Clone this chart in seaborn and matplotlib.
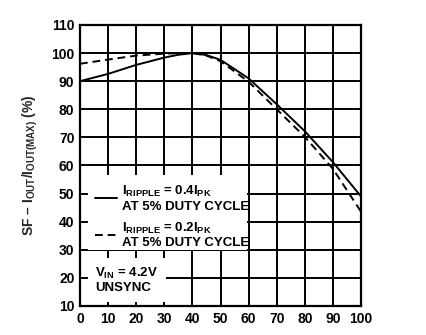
import matplotlib
matplotlib.use("Agg")
import matplotlib.pyplot as plt
import seaborn as sns
import pandas as pd
from matplotlib.patches import Rectangle

# ---- data ----
x_vals = [0, 10, 20, 30, 35, 40, 45, 50, 60, 70, 80, 90, 100]
sf_ripple_04 = [90.0, 92.6, 95.8, 98.4, 99.4, 100.0, 99.3, 97.6, 91.0, 81.8, 72.2, 61.2, 49.0]
sf_ripple_02 = [96.2, 97.7, 99.1, 99.8, 99.95, 100.0, 99.1, 97.1, 89.8, 80.0, 70.2, 58.8, 43.6]
series_names = ["0.4", "0.2"]
x_ticks = [0, 10, 20, 30, 40, 50, 60, 70, 80, 90, 100]
y_ticks = [10, 20, 30, 40, 50, 60, 70, 80, 90, 100, 110]

df = pd.DataFrame({
    "duty": x_vals * 2,
    "sf": sf_ripple_04 + sf_ripple_02,
    "series": [series_names[0]] * len(x_vals) + [series_names[1]] * len(x_vals),
})

sns.set_theme(style="white")
plt.rcParams["font.family"] = ["Liberation Sans", "DejaVu Sans"]
plt.rcParams["mathtext.fontset"] = "custom"
plt.rcParams["mathtext.rm"] = "Liberation Sans"

fig = plt.figure(figsize=(4.27, 3.35), dpi=100)
ax = fig.add_axes([0.1874, 0.0866, 0.658, 0.8388])

sns.lineplot(data=df, x="duty", y="sf", style="series",
             style_order=series_names,
             dashes={series_names[0]: "", series_names[1]: (4, 2.5)},
             color="black", linewidth=1.4, legend=False, ax=ax, zorder=5)

ax.set_xlim(0, 100)
ax.set_ylim(10, 110)
ax.set_xticks(x_ticks)
ax.set_yticks(y_ticks)
ax.tick_params(length=0, pad=4, labelsize=10, colors="black")
for lab in ax.get_xticklabels() + ax.get_yticklabels():
    lab.set_fontweight("bold")
ax.grid(True, color="black", linewidth=1.4)
ax.set_axisbelow(True)
for s in ax.spines.values():
    s.set_color("black")
    s.set_linewidth(1.6)
    s.set_zorder(6)

ax.set_xlabel("")
ax.set_ylabel(r"SF – I$_{\mathregular{OUT}}$/I$_{\mathregular{OUT(MAX)}}$ (%)",
              fontsize=10, fontweight="bold", labelpad=8)

# white areas behind the annotation text
ax.add_patch(Rectangle((3, 30), 56.5, 26.5, facecolor="white", edgecolor="none", zorder=2))
ax.add_patch(Rectangle((3, 11.5), 27.5, 15.5, facecolor="white", edgecolor="none", zorder=2))

# legend samples
ax.plot([5.5, 13], [48.5, 48.5], color="black", linewidth=1.4, zorder=4)
ax.plot([5.5, 13], [35.3, 35.3], color="black", linewidth=1.4, dashes=(4, 2.5), zorder=4)

tkw = dict(fontsize=9.5, fontweight="bold", color="black", zorder=4, va="baseline")
ax.text(14.8, 49.5, r"I$_{\mathregular{RIPPLE}}$ = 0.4I$_{\mathregular{PK}}$", **tkw)
ax.text(14.8, 44.2, "AT 5% DUTY CYCLE", **tkw)
ax.text(14.8, 36.5, r"I$_{\mathregular{RIPPLE}}$ = 0.2I$_{\mathregular{PK}}$", **tkw)
ax.text(14.8, 31.3, "AT 5% DUTY CYCLE", **tkw)
ax.text(5.5, 20.5, r"V$_{\mathregular{IN}}$ = 4.2V", **tkw)
ax.text(5.5, 15.2, "UNSYNC", **tkw)

fig.savefig("out.png", dpi=100, facecolor="white")
